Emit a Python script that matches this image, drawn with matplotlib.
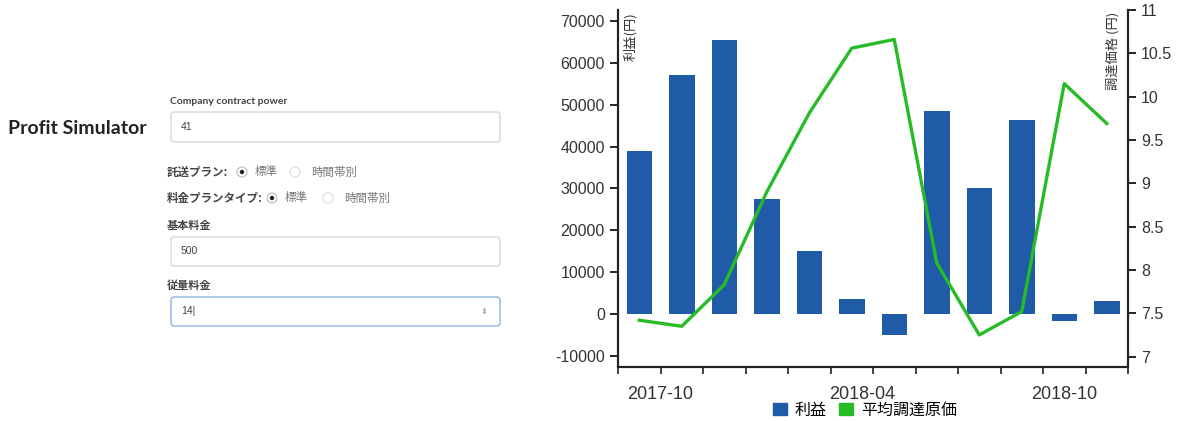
import matplotlib
matplotlib.use("Agg")
import matplotlib.pyplot as plt
from matplotlib.patches import FancyBboxPatch, Circle, Patch

plt.rcParams['font.family'] = ['Liberation Sans', 'Noto Sans CJK JP', 'DejaVu Sans']
plt.rcParams['axes.unicode_minus'] = False

# data
months = ['2017-10', '2017-11', '2017-12', '2018-01', '2018-02', '2018-03',
          '2018-04', '2018-05', '2018-06', '2018-07', '2018-08', '2018-09']
profit = [39000, 57000, 65500, 27500, 15000, 3500,
          -5000, 48500, 30200, 46400, -1600, 3000]
avg_cost = [7.42, 7.35, 7.83, 8.90, 9.81, 10.56,
            10.66, 8.08, 7.25, 7.52, 10.15, 9.69]
date_labels = ['2017-10', '2018-04', '2018-10']
date_label_pos = [0.5, 5.25, 10.0]

bar_color = '#1f5ba6'
line_color = '#27bb27'
ink = '#333333'

W, H = 1177, 421
fig = plt.figure(figsize=(W / 100, H / 100), dpi=100)

# ---- left side form (pixel coords) ----
ui = fig.add_axes([0, 0, 1, 1])
ui.set_xlim(0, W)
ui.set_ylim(H, 0)
ui.axis('off')

jp = ['Noto Sans CJK JP', 'DejaVu Sans']
ui.text(8, 128, 'Profit Simulator', fontsize=14, fontweight='bold',
        family=['Lato', 'DejaVu Sans'], color='#222222', va='center')

def box(y0, y1, text, focus=False):
    ec = '#8db3e2' if focus else '#d6d6d6'
    p = FancyBboxPatch((171, y0), 329, y1 - y0, boxstyle='round,pad=0,rounding_size=3',
                       fc='white', ec=ec, lw=1.0)
    ui.add_patch(p)
    ui.text(181, (y0 + y1) / 2, text, fontsize=7.5, color='#444444', va='center')

ui.text(170, 101, 'Company contract power', fontsize=7.5, fontweight='bold',
        family=['Lato', 'DejaVu Sans'], color='#444444', va='center')
box(112, 142, '41')

def radio_row(y, label, x_first, gap):
    ui.text(167, y, label, fontsize=8.3, fontweight='bold', family=jp,
            color='#444444', va='center')
    ui.add_patch(Circle((x_first, y), 5, fc='white', ec='#bbbbbb', lw=0.8))
    ui.add_patch(Circle((x_first, y), 2.2, fc='#222222', ec='none'))
    ui.text(x_first + 13, y, '標準', fontsize=8.3, family=jp, color='#777777', va='center')
    ui.add_patch(Circle((x_first + gap, y), 5, fc='white', ec='#dddddd', lw=0.8))
    ui.text(x_first + gap + 16, y, '時間帯別', fontsize=8.3, family=jp, color='#777777',
            va='center')

radio_row(172, '託送プラン:', 242, 53)
radio_row(198, '料金プランタイプ:', 272, 56)

ui.text(167, 225, '基本料金', fontsize=8, fontweight='bold', family=jp,
        color='#444444', va='center')
box(237, 266, '500')
ui.text(167, 285, '従量料金', fontsize=8, fontweight='bold', family=jp,
        color='#444444', va='center')
box(297, 326, '14|', focus=True)
ui.text(484, 311, '⬍', fontsize=6, color='#aaaaaa', va='center', ha='center',
        family=['DejaVu Sans'])

# ---- chart ----
ax = fig.add_axes([618 / W, 1 - 367 / H, 510 / W, 357 / H])
ax2 = ax.twinx()
x = list(range(len(months)))

ax.bar(x, profit, width=0.6, color=bar_color, zorder=2)
ax2.plot(x, avg_cost, color=line_color, lw=2.4, zorder=3)

ax.set_xlim(-0.5, len(months) - 0.5)
ax.set_ylim(-12660, 72620)
ax2.set_ylim(6.88, 11.0)
ax.set_yticks(range(-10000, 70001, 10000))
ax2.set_yticks([7, 7.5, 8, 8.5, 9, 9.5, 10, 10.5, 11])
ax2.set_yticklabels(['7', '7.5', '8', '8.5', '9', '9.5', '10', '10.5', '11'])

ax.xaxis.remove_overlapping_locs = False
ax.set_xticks([i - 0.5 for i in range(len(months) + 1)])
ax.set_xticklabels([])
ax.set_xticks(date_label_pos, minor=True)
ax.set_xticklabels(date_labels, minor=True)
ax.tick_params(axis='x', which='minor', length=0, labelsize=13, pad=14, colors=ink)
ax.tick_params(axis='x', which='major', length=5, width=1.2, colors='#222222')
ax.tick_params(axis='y', length=6, width=1.2, labelsize=11.5, labelcolor=ink)
ax2.tick_params(axis='y', length=6, width=1.2, labelsize=11.5, labelcolor=ink)

for a in (ax, ax2):
    a.spines['top'].set_visible(False)
    for s in ('left', 'right', 'bottom'):
        a.spines[s].set_linewidth(1.5)
        a.spines[s].set_color('#222222')

ax.text(0.024, 0.995, '利益(円)', transform=ax.transAxes, rotation=90,
        ha='center', va='top', fontsize=9.5, color=ink, family=jp)
ax2.text(0.97, 0.995, '調達価格 (円)', transform=ax2.transAxes, rotation=90,
         ha='center', va='top', fontsize=9.5, color=ink, family=jp)

handles = [Patch(color=bar_color, label='利益'), Patch(color=line_color, label='平均調達原価')]
fig.legend(handles=handles, loc='center', bbox_to_anchor=(865 / W, 1 - 410 / H),
           ncol=2, frameon=False, handlelength=0.85, handleheight=0.85,
           handletextpad=0.5, columnspacing=0.8, prop={'family': jp, 'size': 11.5})

fig.savefig('out.png', dpi=100)
